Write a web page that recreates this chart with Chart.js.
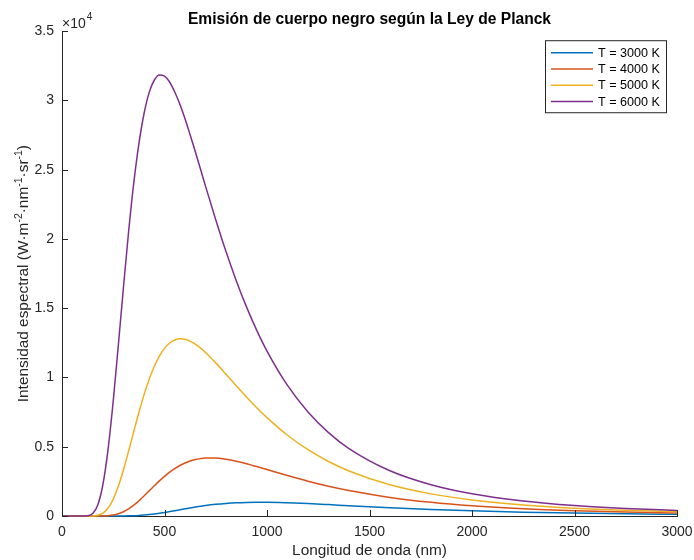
<!DOCTYPE html>
<html>
<head>
<meta charset="utf-8">
<title>Ley de Planck</title>
<script src="https://cdn.jsdelivr.net/npm/chart.js@4"></script>
<style>
body { margin: 0; background: #fff; }
#wrap { width: 694px; height: 560px; }
</style>
</head>
<body>
<div id="wrap"><canvas id="planck" width="694" height="560"></canvas></div>
<script>
'use strict';

// wavelength samples (nm) and spectral radiance (W/m2/nm/sr)
var wavelengths = [0, 100, 125, 150, 175, 200, 225, 250, 275, 300, 325, 350, 375, 400, 425, 450, 475, 500, 525, 550, 575, 600, 625, 650, 675, 700, 750, 800, 850, 900, 950, 1000, 1100, 1200, 1300, 1400, 1600, 1800, 2000, 2250, 2500, 2750, 3000];
var t3000 = [0, 0, 0, 0, 0, 0, 0, 0.6, 2, 5.6, 12.8, 25, 44.8, 72, 108, 152, 203, 260, 322, 386, 452, 517, 581, 642, 698, 751, 840, 908, 955, 983, 994, 993, 957, 896, 822, 744, 597, 472, 372, 278, 210, 160, 124];
var t4000 = [0, 0, 0, 0, 1, 6, 24, 69, 158, 304, 513, 779, 1096, 1446, 1813, 2180, 2535, 2865, 3163, 3423, 3644, 3824, 3966, 4072, 4142, 4181, 4183, 4098, 3957, 3777, 3572, 3355, 2922, 2514, 2151, 1838, 1341, 989, 738, 523, 379, 281, 212];
var t5000 = [0, 0, 0, 7, 52, 210, 577, 1222, 2162, 3345, 4692, 6094, 7470, 8745, 9862, 10796, 11548, 12102, 12489, 12709, 12794, 12763, 12628, 12412, 12137, 11810, 11055, 10238, 9408, 8598, 7822, 7102, 5832, 4786, 3937, 3252, 2254, 1597, 1157, 797, 564, 410, 304];
var t6000 = [0, 0, 18, 178, 812, 2311, 4850, 8321, 12364, 16550, 20542, 24030, 26865, 29040, 30568, 31460, 31838, 31760, 31332, 30610, 29727, 28680, 27520, 26320, 25072, 23815, 21394, 19090, 16992, 15100, 13406, 11910, 9425, 7515, 6023, 4873, 3267, 2260, 1606, 1085, 757, 544, 400];

var seriesLabels = ['T = 3000 K', 'T = 4000 K', 'T = 5000 K', 'T = 6000 K'];
var seriesColors = ['#0072BD', '#D95319', '#EDB120', '#7E2F8E'];
var seriesValues = [t3000, t4000, t5000, t6000];

var FONT = '"Liberation Sans", Arial, Helvetica, sans-serif';
var AXIS_COLOR = '#262626';

Chart.defaults.font.family = FONT;
Chart.defaults.color = AXIS_COLOR;

function toPoints(values) {
	return values.map(function(v, i) { return { x: wavelengths[i], y: v }; });
}

// inward ticks, exponent, y label with superscripts and the legend box
var matlabLook = {
	id: 'matlabLook',
	afterDraw: function(chart) {
		var ctx = chart.ctx;
		var area = chart.chartArea;
		var xs = chart.scales.x;
		var ys = chart.scales.y;
		ctx.save();

		ctx.strokeStyle = AXIS_COLOR;
		ctx.lineWidth = 1;
		ctx.beginPath();
		xs.ticks.forEach(function(t) {
			var px = Math.round(xs.getPixelForValue(t.value)) + 0.5;
			ctx.moveTo(px, area.bottom);
			ctx.lineTo(px, area.bottom - 6);
		});
		ys.ticks.forEach(function(t) {
			var py = Math.round(ys.getPixelForValue(t.value)) + 0.5;
			ctx.moveTo(area.left, py);
			ctx.lineTo(area.left + 6, py);
		});
		ctx.stroke();

		// x10^4 multiplier
		ctx.fillStyle = AXIS_COLOR;
		ctx.textBaseline = 'alphabetic';
		ctx.textAlign = 'left';
		ctx.font = '14px ' + FONT;
		ctx.fillText('\u00d710', area.left, area.top - 3);
		var w = ctx.measureText('\u00d710').width;
		ctx.font = '10px ' + FONT;
		ctx.fillText('4', area.left + w + 1, area.top - 11);

		// y axis title
		var parts = [['Intensidad espectral (W\u00b7m', false], ['-2', true], ['\u00b7nm', false], ['-1', true], ['\u00b7sr', false], ['-1', true], [')', false]];
		var big = '15.4px ' + FONT, small = '10.5px ' + FONT;
		var total = 0;
		parts.forEach(function(p) {
			ctx.font = p[1] ? small : big;
			total += ctx.measureText(p[0]).width;
		});
		ctx.save();
		ctx.translate(28, (area.top + area.bottom) / 2);
		ctx.rotate(-Math.PI / 2);
		var x = -total / 2;
		parts.forEach(function(p) {
			ctx.font = p[1] ? small : big;
			ctx.fillText(p[0], x, p[1] ? -6 : 0);
			x += ctx.measureText(p[0]).width;
		});
		ctx.restore();

		// legend
		var right = area.right - 11, left = right - 121, top = area.top + 9, height = 72;
		ctx.fillStyle = '#fff';
		ctx.fillRect(left, top, right - left, height);
		ctx.strokeStyle = AXIS_COLOR;
		ctx.strokeRect(left + 0.5, top + 0.5, right - left, height);
		ctx.font = '12.6px ' + FONT;
		ctx.textBaseline = 'middle';
		chart.data.datasets.forEach(function(ds, i) {
			var y = top + 12.5 + i * 16.3;
			ctx.strokeStyle = ds.borderColor;
			ctx.lineWidth = 1.5;
			ctx.beginPath();
			ctx.moveTo(left + 6, y);
			ctx.lineTo(left + 48, y);
			ctx.stroke();
			ctx.fillStyle = '#000';
			ctx.fillText(ds.label, left + 53, y + 0.5);
		});

		ctx.restore();
	}
};

var chart = new Chart(document.getElementById('planck'), {
	type: 'line',
	data: {
		datasets: seriesValues.map(function(vals, i) {
			return {
				label: seriesLabels[i],
				data: toPoints(vals),
				borderColor: seriesColors[i],
				backgroundColor: seriesColors[i],
				borderWidth: 1.5,
				pointRadius: 0,
				fill: false,
				cubicInterpolationMode: 'monotone',
				clip: false,
				order: seriesValues.length - i
			};
		})
	},
	options: {
		responsive: false,
		animation: false,
		devicePixelRatio: 1,
		layout: { padding: { top: 0, right: 17, bottom: 0, left: 0 } },
		plugins: {
			legend: { display: false },
			tooltip: { enabled: false },
			title: {
				display: true,
				fullSize: false,
				text: 'Emisión de cuerpo negro según la Ley de Planck',
				color: '#000',
				font: { size: 15.6, weight: 'bold' },
				padding: { top: 10.5, bottom: 2 }
			}
		},
		scales: {
			x: {
				type: 'linear',
				min: 0,
				max: 3000,
				grid: { display: false, drawTicks: false },
				border: { display: true, color: AXIS_COLOR, width: 1 },
				ticks: {
					stepSize: 500,
					padding: 8,
					font: { size: 14 },
					color: AXIS_COLOR,
					maxRotation: 0,
					callback: function(v) { return String(v); }
				},
				title: { display: true, text: 'Longitud de onda (nm)', font: { size: 15.4 }, color: AXIS_COLOR, padding: { top: 0, bottom: 0 } },
				afterFit: function(scale) {
					scale.height = 44;
					scale.paddingLeft = 0;
					scale.paddingRight = 0;
				}
			},
			y: {
				min: 0,
				max: 35000,
				grid: { display: false, drawTicks: false },
				border: { display: true, color: AXIS_COLOR, width: 1 },
				ticks: {
					stepSize: 5000,
					padding: 8,
					font: { size: 14 },
					color: AXIS_COLOR,
					callback: function(v) { return String(v / 1e4); }
				},
				afterFit: function(scale) { scale.width = 62; }
			}
		}
	},
	plugins: [matlabLook]
});
</script>
</body>
</html>
